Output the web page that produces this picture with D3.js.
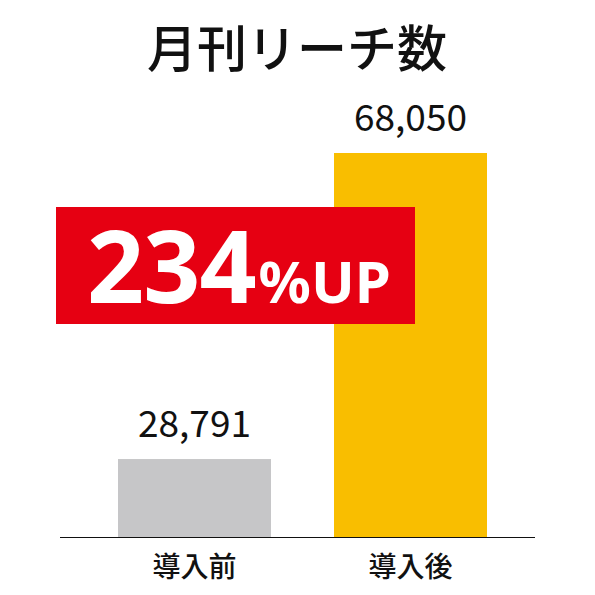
<!DOCTYPE html>
<html><head><meta charset="utf-8">
<script src="https://cdn.jsdelivr.net/npm/d3@7"></script>
<style>html,body{margin:0;padding:0;background:#fff;}</style>
</head><body>
<script>
const title = "月刊リーチ数";
const categories = ["導入前", "導入後"];
const values = [28791, 68050];
const colors = ["#c6c6c8", "#f9be00"];
const badgeMain = "234";
const badgeSuffix = "%UP";

const W = 595, H = 595;
const svg = d3.select("body").append("svg").attr("width", W).attr("height", H)
  .style("font-family", "'Noto Sans CJK JP','Noto Sans',sans-serif");

const baseY = 537;
const x = d3.scaleBand().domain(categories).range([64, 541]).paddingInner(63 / 216).paddingOuter(0.25);
const y = d3.scaleLinear().domain([18790, 68050]).range([baseY, 153]);

svg.append("text").attr("x", 297).attr("y", 67).attr("text-anchor", "middle")
  .attr("font-size", 50).attr("font-weight", 500).attr("fill", "#111").text(title);

svg.selectAll("rect.bar").data(values).join("rect").attr("class", "bar")
  .attr("x", (d, i) => x(categories[i])).attr("width", x.bandwidth())
  .attr("y", d => y(d)).attr("height", d => baseY - y(d))
  .attr("fill", (d, i) => colors[i]);

svg.selectAll("text.val").data(values).join("text").attr("class", "val")
  .attr("x", (d, i) => x(categories[i]) + x.bandwidth() / 2)
  .attr("y", d => y(d) - 22).attr("text-anchor", "middle")
  .attr("font-size", 37).attr("fill", "#111").text(d => d3.format(",")(d));

svg.append("line").attr("x1", 60).attr("x2", 535).attr("y1", baseY + 0.5).attr("y2", baseY + 0.5)
  .attr("stroke", "#111").attr("stroke-width", 1.2);

svg.selectAll("text.cat").data(categories).join("text").attr("class", "cat")
  .attr("x", d => x(d) + x.bandwidth() / 2).attr("y", 577).attr("text-anchor", "middle")
  .attr("font-size", 28).attr("font-weight", 500).attr("fill", "#111").text(d => d);

svg.append("rect").attr("x", 56).attr("y", 207).attr("width", 359).attr("height", 117).attr("fill", "#e60012");
const bt = svg.append("text").attr("x", 87).attr("y", 303).attr("fill", "#fff")
  .attr("font-family", "'Noto Sans','Noto Sans CJK JP',sans-serif").attr("font-weight", 700);
bt.append("tspan").attr("font-size", 100).attr("letter-spacing", -1).text(badgeMain);
bt.append("tspan").attr("font-size", 58).attr("dx", 3).text(badgeSuffix);
</script>
</body></html>
